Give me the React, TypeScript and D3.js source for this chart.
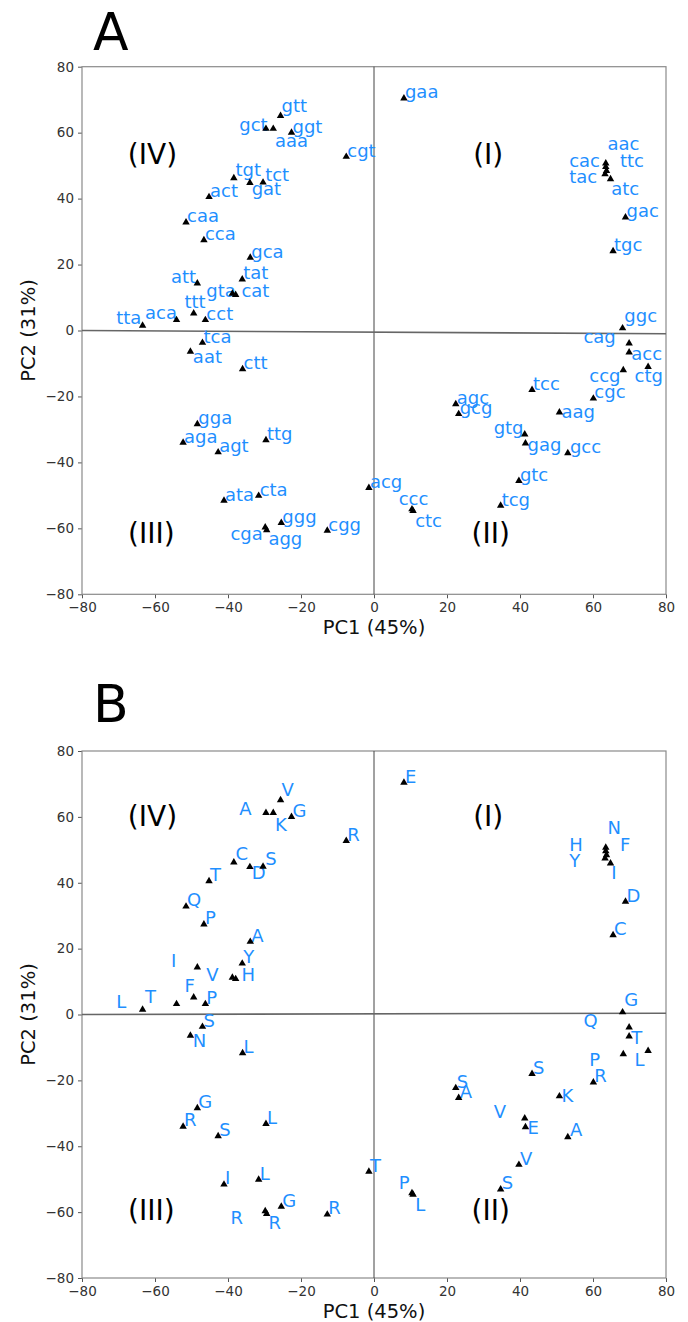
import { useEffect, useRef } from "react";
import * as d3 from "d3";

// codons and the amino acid each one codes for (panel A / panel B labels)
const codons = [
  "gaa", "gtt", "gct", "aaa", "ggt", "cgt", "tgt", "gat", "tct", "act",
  "caa", "cca", "gca", "tat", "att", "gta", "cat", "ttt", "cct", "aca",
  "tta", "tca", "aat", "ctt", "aac", "cac", "ttc", "tac", "atc", "gac",
  "tgc", "ggc", "cag", "acc", "ctg", "ccg", "tcc", "cgc", "agc", "gcg",
  "aag", "gtg", "gag", "gcc", "gtc", "tcg", "acg", "ccc", "ctc", "gga",
  "aga", "agt", "ttg", "ata", "cta", "ggg", "cga", "agg", "cgg",
];
const aminoAcids = [
  "E", "V", "A", "K", "G", "R", "C", "D", "S", "T",
  "Q", "P", "A", "Y", "I", "V", "H", "F", "P", "T",
  "L", "S", "N", "L", "N", "H", "F", "Y", "I", "D",
  "C", "G", "Q", "T", "L", "P", "S", "R", "S", "A",
  "K", "V", "E", "A", "V", "S", "T", "P", "L", "G",
  "R", "S", "L", "I", "L", "G", "R", "R", "R",
];

// PC1 / PC2 scores of each codon
const pc1 = [
  8.2, -25.6, -29.6, -27.6, -22.6, -7.6, -38.4, -34.0, -30.4, -45.2,
  -51.5, -46.6, -33.9, -36.1, -48.4, -38.8, -37.9, -49.4, -46.2, -54.1,
  -63.4, -47.0, -50.3, -36.0, 63.5, 63.5, 63.7, 63.3, 64.8, 68.9,
  65.5, 68.1, 69.9, 69.9, 75.1, 68.3, 43.3, 60.1, 22.4, 23.2,
  50.8, 41.3, 41.5, 53.1, 39.7, 34.7, -1.4, 10.4, 10.7, -48.4,
  -52.3, -42.7, -29.6, -41.1, -31.6, -25.4, -29.8, -29.4, -12.8,
];
const pc2 = [
  70.4, 65.1, 61.2, 61.2, 60.0, 52.7, 46.2, 44.8, 44.9, 40.5,
  32.8, 27.4, 22.1, 15.5, 14.3, 11.2, 10.8, 5.2, 3.2, 3.2,
  1.5, -3.7, -6.4, -11.7, 50.7, 49.6, 48.4, 47.4, 45.9, 34.3,
  24.1, 0.7, -3.9, -6.6, -11.0, -12.0, -18.0, -20.6, -22.3, -25.3,
  -24.8, -31.5, -34.2, -37.2, -45.6, -53.1, -47.7, -54.2, -54.7, -28.4,
  -34.0, -36.9, -33.2, -51.6, -50.1, -58.3, -59.7, -60.5, -60.7,
];

// where each text label was placed (data units, left / baseline)
const labelPc1 = [
  8.2, -25.6, -37.2, -27.4, -22.6, -7.6, -38.2, -33.8, -30.1, -45.2,
  -51.5, -46.6, -33.9, -36.1, -55.9, -46.2, -36.6, -52.2, -46.2, -63.0,
  -70.9, -47.0, -49.9, -36.0, 63.7, 53.2, 67.1, 53.2, 64.7, 68.9,
  65.5, 68.3, 57.1, 70.2, 71.1, 58.7, 43.3, 60.1, 22.4, 23.2,
  51.1, 32.5, 41.8, 53.4, 39.7, 34.7, -1.4, 6.5, 11.0, -48.4,
  -52.3, -42.7, -29.6, -41.1, -31.6, -25.4, -39.6, -29.2, -12.8,
];
const labelPc2 = [
  70.4, 66.2, 60.6, 55.7, 60.0, 52.7, 47.0, 41.2, 45.3, 40.5,
  32.8, 27.4, 22.1, 15.5, 14.5, 10.2, 10.2, 6.7, 3.2, 3.4,
  1.9, -3.7, -10.0, -11.7, 54.7, 49.7, 49.7, 44.8, 41.1, 34.3,
  24.1, 2.7, -3.9, -8.9, -15.5, -15.5, -18.0, -20.6, -22.3, -25.3,
  -26.6, -31.3, -36.4, -37.0, -45.6, -53.1, -47.7, -53.0, -59.7, -28.4,
  -34.0, -36.9, -33.2, -51.6, -50.1, -58.3, -63.5, -65.1, -60.7,
];

const tickValues = [-80, -60, -40, -20, 0, 20, 40, 60, 80];
const quadrantNames = ["(I)", "(II)", "(III)", "(IV)"];
const quadrantPc1 = [31.3, 32.0, -61.0, -60.7];
const panelTitles = ["A", "B"];

const FONT = "DejaVu Sans";
const BLUE = "#1f8fff";

export default function App() {
  const ref = useRef<HTMLDivElement>(null);

  useEffect(() => {
    if (!ref.current) return;
    d3.select(ref.current).selectAll("*").remove();

    const svg = d3
      .select(ref.current)
      .append("svg")
      .attr("width", 688)
      .attr("height", 1322)
      .style("position", "absolute")
      .style("left", "0px")
      .style("top", "0px")
      .style("background", "#fff")
      .style("font-family", FONT);

    // per panel layout
    const panels = [
      { top: 66.7, bottom: 594.3, titleY: 50, quadY: [53.5, -61.5], zeroTilt: -1 },
      { top: 751, bottom: 1278, titleY: 722, quadY: [60, -59.5], zeroTilt: 0.4 },
    ];
    const left = 82;
    const right = 666;

    panels.forEach((p, pi) => {
      const x = d3.scaleLinear().domain([-80, 80]).range([left, right]);
      const y = d3.scaleLinear().domain([-80, 80]).range([p.bottom, p.top]);
      const g = svg.append("g");

      // panel letter
      g.append("text")
        .attr("x", 93)
        .attr("y", p.titleY)
        .attr("font-size", 52)
        .attr("fill", "#000")
        .text(panelTitles[pi]);

      // axes
      const yAxis = g
        .append("g")
        .attr("transform", `translate(${left},0)`)
        .call(d3.axisLeft(y).tickValues(tickValues).tickSize(4).tickPadding(4).tickSizeOuter(0));
      const xAxis = g
        .append("g")
        .attr("transform", `translate(0,${p.bottom})`)
        .call(d3.axisBottom(x).tickValues(tickValues).tickSize(4).tickPadding(4).tickSizeOuter(0));
      [yAxis, xAxis].forEach((a) => {
        a.select(".domain").remove();
        a.selectAll("line").attr("stroke", "#555");
        a.selectAll("text")
          .attr("font-family", FONT)
          .attr("font-size", 13.5)
          .attr("fill", "#333");
      });

      // frame
      g.append("rect")
        .attr("x", left)
        .attr("y", p.top)
        .attr("width", right - left)
        .attr("height", p.bottom - p.top)
        .attr("fill", "none")
        .attr("stroke", "#8a8a8a")
        .attr("stroke-width", 1.2);

      // zero lines
      g.append("line")
        .attr("x1", x(0))
        .attr("x2", x(0))
        .attr("y1", y(80))
        .attr("y2", y(-80))
        .attr("stroke", "#444")
        .attr("stroke-width", 1);
      g.append("line")
        .attr("x1", x(-80))
        .attr("x2", x(80))
        .attr("y1", y(0))
        .attr("y2", y(p.zeroTilt))
        .attr("stroke", "#666")
        .attr("stroke-width", 1.6);

      // quadrant names
      quadrantNames.forEach((q, qi) => {
        g.append("text")
          .attr("x", x(quadrantPc1[qi]))
          .attr("y", y(qi === 0 || qi === 3 ? p.quadY[0] : p.quadY[1]))
          .attr("text-anchor", "middle")
          .attr("dominant-baseline", "central")
          .attr("font-size", 28)
          .attr("fill", "#000")
          .text(q);
      });

      // axis titles
      g.append("text")
        .attr("x", x(0))
        .attr("y", p.bottom + 40)
        .attr("text-anchor", "middle")
        .attr("font-size", 19.5)
        .attr("fill", "#111")
        .text("PC1 (45%)");
      g.append("text")
        .attr("transform", `translate(35,${(p.top + p.bottom) / 2}) rotate(-90)`)
        .attr("text-anchor", "middle")
        .attr("font-size", 19.5)
        .attr("fill", "#111")
        .text("PC2 (31%)");

      const labels = pi === 0 ? codons : aminoAcids;

      // point labels
      g.selectAll(".lbl")
        .data(labels)
        .enter()
        .append("text")
        .attr("class", "lbl")
        .attr("x", (_d, i) => x(labelPc1[i]) + 1)
        .attr("y", (_d, i) => y(labelPc2[i]))
        .attr("font-size", 18)
        .attr("fill", BLUE)
        .text((d) => d);

      // triangle markers
      const tri = d3.symbol().type(d3.symbolTriangle).size(24);
      g.selectAll(".pt")
        .data(pc1)
        .enter()
        .append("path")
        .attr("class", "pt")
        .attr("d", tri)
        .attr("transform", (d, i) => `translate(${x(d)},${y(pc2[i])})`)
        .attr("fill", "#000");
    });
  }, []);

  return <div ref={ref} />;
}
